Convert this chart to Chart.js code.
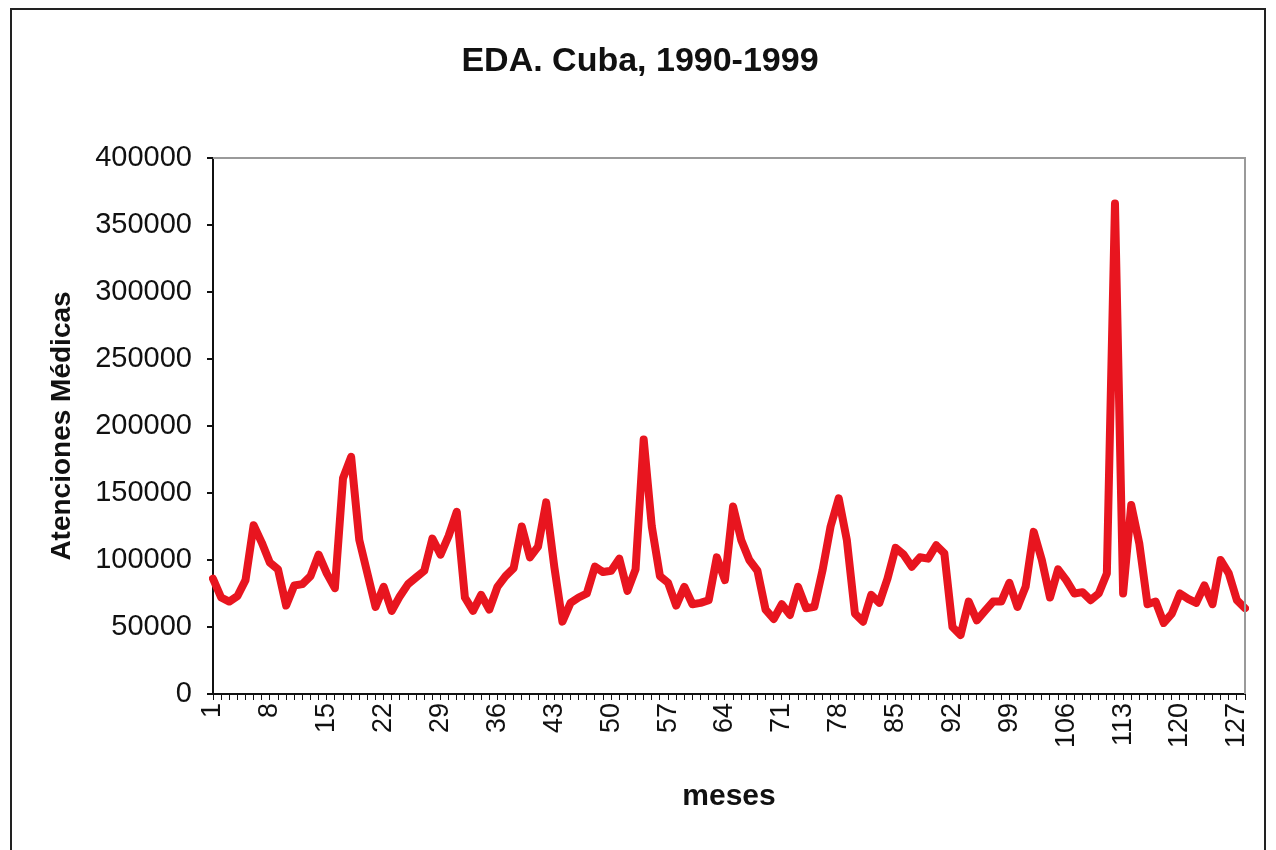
<!DOCTYPE html>
<html>
<head>
<meta charset="utf-8">
<title>EDA. Cuba, 1990-1999</title>
<script src="https://cdn.jsdelivr.net/npm/chart.js@4.4.0/dist/chart.umd.min.js"></script>
<style>
  html, body { margin: 0; padding: 0; background: #fff; }
  #wrap { position: relative; width: 1276px; height: 850px; overflow: hidden; }
  #frame { position: absolute; left: 10px; top: 8px; width: 1256px; height: 900px; border: 2px solid #222; box-sizing: border-box; pointer-events: none; }
  #title { position: absolute; left: 0; top: 38px; width: 1280px; text-align: center; font: bold 34px 'Liberation Sans', Arial, sans-serif; color: #111; line-height: 42px; }
  canvas { position: absolute; left: 0; top: 0; }
</style>
</head>
<body>
<div id="wrap">
  <canvas id="chart-eda" width="1276" height="850"></canvas>
  <div id="title">EDA. Cuba, 1990-1999</div>
  <div id="frame"></div>
</div>
<script>
// month index along the x axis
const months = [
  1, 2, 3, 4, 5, 6, 7, 8, 9, 10, 11, 12, 13, 14, 15, 16,
  17, 18, 19, 20, 21, 22, 23, 24, 25, 26, 27, 28, 29, 30, 31, 32,
  33, 34, 35, 36, 37, 38, 39, 40, 41, 42, 43, 44, 45, 46, 47, 48,
  49, 50, 51, 52, 53, 54, 55, 56, 57, 58, 59, 60, 61, 62, 63, 64,
  65, 66, 67, 68, 69, 70, 71, 72, 73, 74, 75, 76, 77, 78, 79, 80,
  81, 82, 83, 84, 85, 86, 87, 88, 89, 90, 91, 92, 93, 94, 95, 96,
  97, 98, 99, 100, 101, 102, 103, 104, 105, 106, 107, 108, 109, 110, 111, 112,
  113, 114, 115, 116, 117, 118, 119, 120, 121, 122, 123, 124, 125, 126, 127, 128
];

// atenciones medicas per month
const atenciones = [
  86000, 72000, 69000, 73000, 85000, 126000, 113000, 98000, 93000, 66000, 81000, 82000, 88000, 104000, 90000, 79000,
  161000, 177000, 115000, 90000, 65000, 80000, 62000, 73000, 82000, 87000, 92000, 116000, 104000, 118000, 136000, 72000,
  62000, 74000, 63000, 80000, 88000, 94000, 125000, 102000, 110000, 143000, 95000, 54000, 68000, 72000, 75000, 95000,
  91000, 92000, 101000, 77000, 93000, 190000, 125000, 88000, 83000, 66000, 80000, 67000, 68000, 70000, 102000, 85000,
  140000, 115000, 100000, 92000, 63000, 56000, 67000, 59000, 80000, 64000, 65000, 92000, 125000, 146000, 115000, 60000,
  54000, 74000, 68000, 86000, 109000, 104000, 95000, 102000, 101000, 111000, 105000, 50000, 44000, 69000, 55000, 62000,
  69000, 69000, 83000, 65000, 80000, 121000, 100000, 72000, 93000, 85000, 75000, 76000, 70000, 75000, 90000, 366000,
  75000, 141000, 112000, 67000, 69000, 53000, 60000, 75000, 71000, 68000, 81000, 67000, 100000, 90000, 70000, 64000
];

// months that carry a label on the x axis
const xTickLabels = ['1', '8', '15', '22', '29', '36', '43', '50', '57', '64', '71', '78', '85', '92', '99', '106', '113', '120', '127'];

const FONT = "'Liberation Sans', Arial, sans-serif";

// grey border on the top and right of the plot area
const plotFrame = {
  id: 'plotFrame',
  afterDraw(chart) {
    const { ctx, chartArea: a } = chart;
    ctx.save();
    ctx.strokeStyle = '#9a9a9a';
    ctx.lineWidth = 2;
    ctx.beginPath();
    ctx.moveTo(a.left, a.top);
    ctx.lineTo(a.right, a.top);
    ctx.lineTo(a.right, a.bottom);
    ctx.stroke();
    ctx.restore();
  }
};

new Chart(document.getElementById('chart-eda'), {
  type: 'line',
  data: {
    labels: months.map(String),
    datasets: [{
      label: 'Atenciones Médicas',
      data: atenciones,
      borderColor: '#e8151f',
      borderWidth: 8,
      pointRadius: 0,
      tension: 0,
      borderJoinStyle: 'round',
      borderCapStyle: 'round',
      fill: false,
    }],
  },
  options: {
    responsive: false,
    animation: false,
    devicePixelRatio: 1,
    layout: { padding: { left: 0, right: 31, top: 158, bottom: 0 } },
    plugins: {
      legend: { display: false },
      tooltip: { enabled: false },
      title: { display: false },
    },
    scales: {
      x: {
        type: 'category',
        offset: false,
        border: { color: '#111', width: 2 },
        grid: { drawOnChartArea: false, drawTicks: true, tickLength: 6, color: '#111', lineWidth: 1 },
        ticks: {
          autoSkip: false,
          maxRotation: 90,
          minRotation: 90,
          padding: 3,
          color: '#111',
          font: { family: FONT, size: 27 },
          callback: (v, i) => xTickLabels.includes(months[i].toString()) ? months[i].toString() : '',
        },
        title: {
          display: true,
          text: 'meses',
          color: '#111',
          font: { family: FONT, size: 30, weight: 'bold' },
          padding: { top: 0, bottom: 35 },
        },
        afterFit: scale => {
          scale.height = 156;
          scale.paddingRight = 0;
          scale.paddingLeft = 0;
        },
      },
      y: {
        min: 0,
        max: 400000,
        border: { color: '#111', width: 2 },
        grid: { drawOnChartArea: false, drawTicks: true, tickLength: 6, color: '#111', lineWidth: 2 },
        ticks: {
          stepSize: 50000,
          padding: 15,
          color: '#111',
          font: { family: FONT, size: 29 },
          callback: v => String(v),
        },
        title: {
          display: true,
          text: 'Atenciones Médicas',
          color: '#111',
          font: { family: FONT, size: 28, weight: 'bold' },
          padding: { top: 45, bottom: 0 },
        },
        afterFit: scale => { scale.width = 213; },
      },
    },
  },
  plugins: [plotFrame],
});
</script>
</body>
</html>
